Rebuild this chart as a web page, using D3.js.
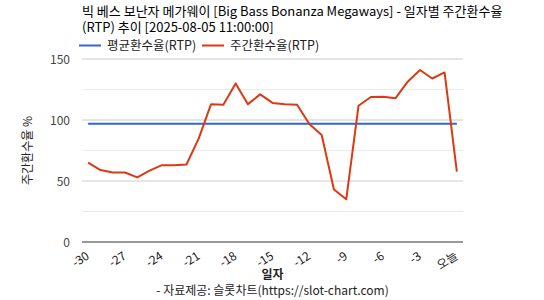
<!DOCTYPE html>
<html>
<head>
<meta charset="utf-8">
<script src="https://cdn.jsdelivr.net/npm/d3@7"></script>
<style>
  body { margin: 0; background: #fff; }
  text { font-family: "Noto Sans CJK KR", "Noto Sans", sans-serif; }
</style>
</head>
<body>
<script>
// data
const days = d3.range(-30, 1);
const weeklyRtp = [65, 59, 57, 57, 53, 58.5, 63, 63, 63.5, 85, 113, 112.5, 130, 113, 121, 114, 113, 112.5,
  96.7, 87.7, 43, 35, 111.7, 118.9, 119, 117.8, 131.4, 141, 134, 139, 57.6];
const avgRtp = 97;
const tickDays = [-30, -27, -24, -21, -18, -15, -12, -9, -6, -3, 0];
const yTicks = [0, 50, 100, 150];
const yMinor = [25, 75, 125];

const width = 544, height = 300;
const margin = { left: 82, right: 81, top: 59, bottom: 58 };

const svg = d3.select("body").append("svg")
  .attr("width", width)
  .attr("height", height);

const x = d3.scaleBand()
  .domain(days)
  .range([margin.left, width - margin.right]);
const y = d3.scaleLinear()
  .domain([0, 150])
  .range([height - margin.bottom, margin.top]);
const cx = d => x(d) + x.bandwidth() / 2;

// gridlines
svg.append("g").selectAll("line")
  .data(yMinor)
  .join("line")
  .attr("x1", margin.left).attr("x2", width - margin.right)
  .attr("y1", d => y(d)).attr("y2", d => y(d))
  .attr("stroke", "#ebebeb");
svg.append("g").selectAll("line")
  .data(yTicks.filter(d => d > 0))
  .join("line")
  .attr("x1", margin.left).attr("x2", width - margin.right)
  .attr("y1", d => y(d)).attr("y2", d => y(d))
  .attr("stroke", "#cccccc");

// y tick labels
svg.append("g").selectAll("text")
  .data(yTicks)
  .join("text")
  .attr("x", margin.left - 12)
  .attr("y", d => y(d) + 4.5)
  .attr("text-anchor", "end")
  .attr("font-size", 12)
  .attr("fill", "#444")
  .text(d => d);

// x tick labels
svg.append("g").selectAll("text")
  .data(tickDays)
  .join("text")
  .attr("transform", d => `translate(${cx(d) + 2},${y(0) + 16}) rotate(-33)`)
  .attr("text-anchor", "end")
  .attr("font-size", 12)
  .attr("fill", "#222")
  .text(d => d === 0 ? "오늘" : d);

// axis titles
svg.append("text")
  .attr("transform", `translate(32,${y(75)}) rotate(-90)`)
  .attr("text-anchor", "middle")
  .attr("font-size", 12)
  .attr("fill", "#222")
  .text("주간환수율 %");
svg.append("text")
  .attr("x", (margin.left + width - margin.right) / 2)
  .attr("y", 279)
  .attr("text-anchor", "middle")
  .attr("font-size", 12)
  .attr("font-weight", "bold")
  .attr("fill", "#222")
  .text("일자");
svg.append("text")
  .attr("x", (margin.left + width - margin.right) / 2)
  .attr("y", 295)
  .attr("text-anchor", "middle")
  .attr("font-size", 12)
  .attr("fill", "#222")
  .text("- 자료제공: 슬롯차트(https://slot-chart.com)");

// baseline
svg.append("line")
  .attr("x1", margin.left).attr("x2", width - margin.right)
  .attr("y1", y(0)).attr("y2", y(0))
  .attr("stroke", "#333");

// average line
svg.append("path")
  .datum(days)
  .attr("fill", "none")
  .attr("stroke", "#3366cc")
  .attr("stroke-width", 2)
  .attr("d", d3.line().x(d => cx(d)).y(() => y(avgRtp)));

// weekly rtp line
svg.append("path")
  .datum(weeklyRtp)
  .attr("fill", "none")
  .attr("stroke", "#dc3912")
  .attr("stroke-width", 2)
  .attr("stroke-linejoin", "round")
  .attr("d", d3.line().x((d, i) => cx(days[i])).y(d => y(d)));

// title
const title = svg.append("text")
  .attr("x", margin.left)
  .attr("font-size", 13)
  .attr("fill", "#000");
title.append("tspan").attr("x", margin.left).attr("y", 16)
  .text("빅 베스 보난자 메가웨이 [Big Bass Bonanza Megaways] - 일자별 주간환수율");
title.append("tspan").attr("x", margin.left).attr("y", 32)
  .text("(RTP) 추이 [2025-08-05 11:00:00]");

// legend
const legend = [
  { name: "평균환수율(RTP)", color: "#3366cc", x: 79 },
  { name: "주간환수율(RTP)", color: "#dc3912", x: 202 }
];
const lg = svg.append("g").selectAll("g")
  .data(legend)
  .join("g")
  .attr("transform", d => `translate(${d.x},45.5)`);
lg.append("line")
  .attr("x1", 0).attr("x2", 22)
  .attr("stroke", d => d.color)
  .attr("stroke-width", 2);
lg.append("text")
  .attr("x", 28)
  .attr("y", 4.5)
  .attr("font-size", 12.5)
  .attr("fill", "#222")
  .text(d => d.name);
</script>
</body>
</html>
